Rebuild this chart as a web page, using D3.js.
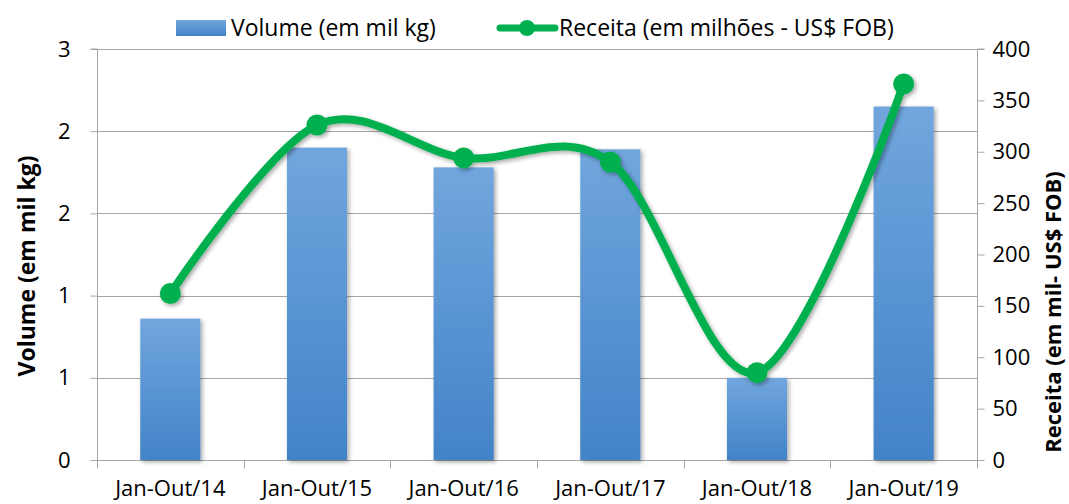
<!DOCTYPE html>
<html>
<head>
<meta charset="utf-8">
<script src="https://cdn.jsdelivr.net/npm/d3@7"></script>
<style>
  body { margin: 0; background: #fff; }
  svg { display: block; }
  text { font-family: "Open Sans", "Noto Sans", sans-serif; fill: #000; }
</style>
</head>
<body>
<svg id="chart" width="1069" height="504"></svg>
<script>
// data
const categories = ["Jan-Out/14", "Jan-Out/15", "Jan-Out/16", "Jan-Out/17", "Jan-Out/18", "Jan-Out/19"];
const volume = [0.86, 1.90, 1.78, 1.89, 0.50, 2.15];
const receita = [162, 326, 294, 290, 85, 366];
const volumeTicks = [0, 0.5, 1, 1.5, 2, 2.5];
const receitaTicks = [0, 50, 100, 150, 200, 250, 300, 350, 400];

const FONT = "'Open Sans', 'Noto Sans', sans-serif";
const plot = { left: 97, right: 977, top: 49, bottom: 460 };
const green = "#00b050";
const gridColor = "#a6a6a6";

const svg = d3.select("#chart");
const defs = svg.append("defs");

const grad = defs.append("linearGradient")
    .attr("id", "barGrad")
    .attr("x1", 0).attr("y1", 0).attr("x2", 0).attr("y2", 1);
grad.append("stop").attr("offset", "0%").attr("stop-color", "#71a6dd");
grad.append("stop").attr("offset", "100%").attr("stop-color", "#4283c8");

const shadow = defs.append("filter")
    .attr("id", "shadow")
    .attr("x", "-20%").attr("y", "-20%").attr("width", "150%").attr("height", "150%");
shadow.append("feDropShadow")
    .attr("dx", 2).attr("dy", 2).attr("stdDeviation", 2)
    .attr("flood-color", "#000").attr("flood-opacity", 0.35);

const x = d3.scaleBand()
    .domain(categories)
    .range([plot.left, plot.right])
    .paddingInner(0.59)
    .paddingOuter(0.295);

const yLeft = d3.scaleLinear().domain([0, 2.5]).range([plot.bottom, plot.top]);
const yRight = d3.scaleLinear().domain([0, 400]).range([plot.bottom, plot.top]);

// gridlines
svg.append("g")
    .selectAll("line")
    .data(volumeTicks)
    .join("line")
    .attr("x1", plot.left).attr("x2", plot.right)
    .attr("y1", d => Math.round(yLeft(d)) + 0.5)
    .attr("y2", d => Math.round(yLeft(d)) + 0.5)
    .attr("stroke", gridColor)
    .attr("stroke-width", 1);

// left axis
const leftAxis = svg.append("g")
    .attr("transform", `translate(${plot.left + 0.5},0)`)
    .call(d3.axisLeft(yLeft).tickValues(volumeTicks).tickFormat(d => Math.round(d)).tickSize(7).tickPadding(20));
leftAxis.select(".domain").attr("stroke", gridColor).attr("d", `M-7,${plot.top}H0V${plot.bottom + 8}`);
leftAxis.selectAll(".tick line").attr("stroke", gridColor);
leftAxis.selectAll(".tick text").attr("font-size", 22).attr("font-family", FONT).attr("fill", "#000");

// right axis
const rightAxis = svg.append("g")
    .attr("transform", `translate(${plot.right + 0.5},0)`)
    .call(d3.axisRight(yRight).tickValues(receitaTicks).tickSize(7).tickPadding(8));
rightAxis.select(".domain").attr("stroke", gridColor).attr("d", `M7,${plot.top}H0V${plot.bottom + 8}`);
rightAxis.selectAll(".tick line").attr("stroke", gridColor);
rightAxis.selectAll(".tick text").attr("font-size", 22).attr("font-family", FONT).attr("fill", "#000");

// category axis
const step = x.step();
const bottomAxis = svg.append("g")
    .attr("transform", `translate(0,${plot.bottom + 0.5})`);
bottomAxis.selectAll("line")
    .data(d3.range(categories.length + 1))
    .join("line")
    .attr("x1", i => Math.round(plot.left + i * step) + 0.5)
    .attr("x2", i => Math.round(plot.left + i * step) + 0.5)
    .attr("y1", 0).attr("y2", 8)
    .attr("stroke", gridColor);
bottomAxis.selectAll("text")
    .data(categories)
    .join("text")
    .attr("x", d => x(d) + x.bandwidth() / 2)
    .attr("y", 35)
    .attr("text-anchor", "middle")
    .attr("font-size", 22)
    .text(d => d);

// bars
svg.append("g")
    .attr("filter", "url(#shadow)")
    .selectAll("rect")
    .data(volume)
    .join("rect")
    .attr("x", (d, i) => x(categories[i]))
    .attr("width", x.bandwidth())
    .attr("y", d => yLeft(d))
    .attr("height", d => plot.bottom - yLeft(d))
    .attr("fill", "url(#barGrad)");

// smoothed line
const line = d3.line()
    .x((d, i) => x(categories[i]) + x.bandwidth() / 2)
    .y(d => yRight(d))
    .curve(d3.curveCardinal.tension(0));

const lineG = svg.append("g").attr("filter", "url(#shadow)");
lineG.append("path")
    .datum(receita)
    .attr("d", line)
    .attr("fill", "none")
    .attr("stroke", green)
    .attr("stroke-width", 8)
    .attr("stroke-linecap", "round");
lineG.selectAll("circle")
    .data(receita)
    .join("circle")
    .attr("cx", (d, i) => x(categories[i]) + x.bandwidth() / 2)
    .attr("cy", d => yRight(d))
    .attr("r", 10.5)
    .attr("fill", green);

// axis titles
svg.append("text")
    .attr("transform", "translate(35,266) rotate(-90)")
    .attr("text-anchor", "middle")
    .attr("font-size", 23)
    .attr("font-weight", "bold")
    .text("Volume (em mil kg)");

svg.append("text")
    .attr("transform", "translate(1061,312) rotate(-90)")
    .attr("text-anchor", "middle")
    .attr("font-size", 22)
    .attr("font-weight", "bold")
    .text("Receita (em mil- US$ FOB)");

// legend
const legend = svg.append("g");
legend.append("rect")
    .attr("x", 176).attr("y", 20).attr("width", 50).attr("height", 16)
    .attr("fill", "url(#barGrad)");
legend.append("text")
    .attr("x", 231).attr("y", 36)
    .attr("font-size", 23)
    .text("Volume (em mil kg)");
legend.append("line")
    .attr("x1", 500).attr("x2", 555).attr("y1", 28).attr("y2", 28)
    .attr("stroke", green).attr("stroke-width", 7).attr("stroke-linecap", "round");
legend.append("circle")
    .attr("cx", 527).attr("cy", 28).attr("r", 8).attr("fill", green);
legend.append("text")
    .attr("x", 559).attr("y", 36)
    .attr("font-size", 23)
    .text("Receita (em milhões - US$ FOB)");
</script>
</body>
</html>
